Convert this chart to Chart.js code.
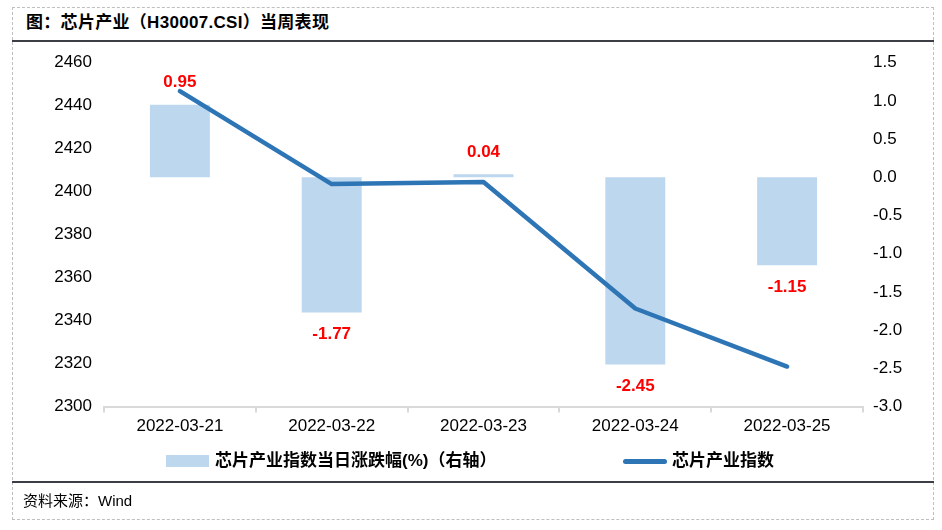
<!DOCTYPE html>
<html>
<head>
<meta charset="utf-8">
<script src="https://cdn.jsdelivr.net/npm/chart.js@4.4.1/dist/chart.umd.min.js"></script>
<style>
  html, body { margin: 0; padding: 0; background: #fff; }
  body { width: 942px; height: 530px; position: relative; overflow: hidden;
         font-family: "Liberation Sans", "Noto Sans CJK SC", sans-serif; color: #000; }
  #frame { position: absolute; left: 12px; top: 7px; width: 920px; height: 511px;
           border: 1px dashed #BFBFBF; }
  .rule { position: absolute; left: 12px; width: 922px; height: 2px; background: #3B3F45; }
  #title { position: absolute; left: 26px; top: 12px; font-size: 17px; font-weight: bold; line-height: 22px; letter-spacing: 0.3px; }
  #footer { position: absolute; left: 23px; top: 491px; font-size: 15px; line-height: 20px; }
  #chart { position: absolute; left: 0; top: 0; }
  .leg { position: absolute; top: 450px; font-size: 17px; font-weight: bold; line-height: 22px; white-space: nowrap; }
  .sw-bar { position: absolute; left: 166px; top: 455px; width: 43px; height: 12px; background: #BDD7EE; }
  .sw-line { position: absolute; left: 623px; top: 459px; width: 44px; height: 5px; border-radius: 3px; background: #2E75B6; }
</style>
</head>
<body>
<div id="frame"></div>
<div class="rule" style="top:40px"></div>
<div class="rule" style="top:481px"></div>
<div id="title">图：芯片产业（H30007.CSI）当周表现</div>
<canvas id="chart" width="942" height="530"></canvas>
<div class="sw-bar"></div>
<div class="leg" style="left:215px">芯片产业指数当日涨跌幅(%)（右轴）</div>
<div class="sw-line"></div>
<div class="leg" style="left:672px">芯片产业指数</div>
<div id="footer">资料来源：Wind</div>

<script>
// 数据
const dates = ['2022-03-21', '2022-03-22', '2022-03-23', '2022-03-24', '2022-03-25'];
const dailyChange = [0.95, -1.77, 0.04, -2.45, -1.15];          // 当日涨跌幅(%)，右轴
const indexClose = [2446.8, 2403.5, 2404.5, 2345.6, 2318.6];    // 芯片产业指数，左轴

const FONT = '"Liberation Sans", "Noto Sans CJK SC", sans-serif';

// 柱子上的数值标签
const barLabels = {
    id: 'barLabels',
    afterDatasetsDraw(chart) {
        const meta = chart.getDatasetMeta(1);
        const ctx = chart.ctx;
        ctx.save();
        ctx.font = 'bold 17px ' + FONT;
        ctx.fillStyle = '#FF0000';
        ctx.textAlign = 'center';
        ctx.textBaseline = 'middle';
        meta.data.forEach((bar, i) => {
            const v = dailyChange[i];
            const y = v >= 0 ? bar.y - 22 : bar.y + 22;
            ctx.fillText(v.toFixed(2), bar.x, y);
        });
        ctx.restore();
    }
};

new Chart(document.getElementById('chart'), {
    data: {
        labels: dates,
        datasets: [{
            type: 'line',
            label: '芯片产业指数',
            data: indexClose,
            yAxisID: 'y',
            borderColor: '#2E75B6',
            borderWidth: 4.5,
            borderCapStyle: 'round',
            borderJoinStyle: 'round',
            pointRadius: 0,
            tension: 0,
            order: 0
        }, {
            type: 'bar',
            label: '芯片产业指数当日涨跌幅(%)（右轴）',
            data: dailyChange,
            yAxisID: 'y1',
            backgroundColor: '#BDD7EE',
            barPercentage: 0.395,
            categoryPercentage: 1,
            order: 1
        }]
    },
    options: {
        responsive: false,
        animation: false,
        devicePixelRatio: 1,
        layout: { padding: { left: 0, right: 0, top: 62.7, bottom: 83.5 } },
        plugins: {
            legend: { display: false },
            title: { display: false },
            tooltip: { enabled: false }
        },
        scales: {
            x: {
                offset: true,
                grid: { offset: true, drawOnChartArea: false, tickLength: 6, color: '#D9D9D9', lineWidth: 2 },
                border: { display: true, color: '#D9D9D9', width: 2 },
                ticks: { color: '#000', font: { family: FONT, size: 17 }, padding: 4, maxRotation: 0 },
                afterFit: (scale) => { scale.height = 40; }
            },
            y: {
                position: 'left',
                min: 2300,
                max: 2460,
                ticks: {
                    stepSize: 20,
                    color: '#000',
                    font: { family: FONT, size: 17 },
                    padding: 12,
                    callback: (v) => String(v)
                },
                grid: { display: false, drawTicks: false },
                border: { display: false },
                afterFit: (scale) => { scale.width = 104; }
            },
            y1: {
                position: 'right',
                min: -3,
                max: 1.5,
                ticks: {
                    stepSize: 0.5,
                    color: '#000',
                    font: { family: FONT, size: 17 },
                    padding: 10,
                    callback: (v) => v.toFixed(1)
                },
                grid: { display: false, drawTicks: false },
                border: { display: false },
                afterFit: (scale) => { scale.width = 79; }
            }
        }
    },
    plugins: [barLabels]
});
</script>
</body>
</html>
